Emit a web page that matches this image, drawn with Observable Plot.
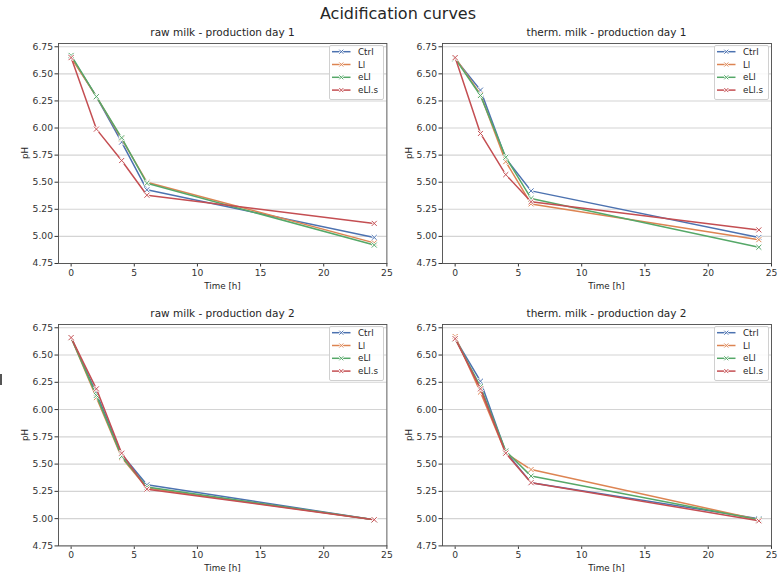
<!DOCTYPE html>
<html><head><meta charset="utf-8">
<script src="https://cdn.jsdelivr.net/npm/d3@7"></script>
<script src="https://cdn.jsdelivr.net/npm/@observablehq/plot@0.6"></script>
<style>
body{margin:0;background:#fff;font-family:"DejaVu Sans",sans-serif;}
#root{position:relative;width:783px;height:575px;overflow:hidden;background:#fff;}
.abs{position:absolute;white-space:nowrap;color:#262626;line-height:1;}
</style></head><body><div id="root"></div>
<script>
const figTitle = "Acidification curves";
const panelTitles = ["raw milk - production day 1", "therm. milk - production day 1", "raw milk - production day 2", "therm. milk - production day 2"];
const xLabel = "Time [h]";
const yLabel = "pH";
const time = [0, 2, 4, 6, 24];
const series = ["Ctrl", "Ll", "eLl", "eLl.s"];
const colors = ["#4c72b0", "#dd8452", "#55a868", "#c44e52"];
const xTicks = [0, 5, 10, 15, 20, 25];
const yTicks = [4.75, 5.00, 5.25, 5.50, 5.75, 6.00, 6.25, 6.50, 6.75];

// pH values per series (Ctrl, Ll, eLl, eLl.s) at each time
const raw1 = [
  [6.66, 6.29, 5.87, 5.43, 4.99],
  [6.65, 6.29, 5.90, 5.50, 4.94],
  [6.67, 6.29, 5.91, 5.49, 4.92],
  [6.65, 5.99, 5.70, 5.38, 5.12]
];
const therm1 = [
  [6.64, 6.35, 5.72, 5.42, 4.99],
  [6.65, 6.31, 5.69, 5.30, 4.97],
  [6.64, 6.30, 5.73, 5.35, 4.90],
  [6.65, 5.95, 5.57, 5.32, 5.06]
];
const raw2 = [
  [6.66, 6.15, 5.59, 5.31, 4.99],
  [6.66, 6.11, 5.56, 5.28, 4.99],
  [6.66, 6.13, 5.57, 5.29, 4.99],
  [6.66, 6.19, 5.60, 5.27, 4.99]
];
const therm2 = [
  [6.65, 6.26, 5.61, 5.33, 5.00],
  [6.67, 6.16, 5.60, 5.45, 4.99],
  [6.65, 6.21, 5.62, 5.39, 4.99],
  [6.65, 6.19, 5.60, 5.33, 4.98]
];
const panelData = [raw1, therm1, raw2, therm2];

// layout (frame boxes in page pixels)
const frames = [
  {x0: 58.3, x1: 386.7, y0: 43, y1: 263},
  {x0: 442, x1: 771, y0: 43, y1: 263},
  {x0: 58.3, x1: 386.7, y0: 324.3, y1: 545.7},
  {x0: 442, x1: 771, y0: 324.3, y1: 545.7}
];

const root = document.getElementById("root");
const ML = 50, MR = 8, MT = 6, MB = 22;

function addText(txt, x, y, size, extra) {
  const d = document.createElement("div");
  d.className = "abs";
  d.textContent = txt;
  d.style.left = x + "px";
  d.style.top = y + "px";
  d.style.fontSize = size + "px";
  d.style.transform = "translate(-50%,-50%)" + (extra || "");
  root.appendChild(d);
  return d;
}

panelData.forEach((vals, p) => {
  const f = frames[p];
  const rows = [];
  series.forEach((s, i) => time.forEach((t, j) => rows.push({s, t, v: vals[i][j]})));
  const marks = [
    Plot.ruleY(yTicks, {stroke: "#d4d4d4", strokeWidth: 1.1})
  ];
  series.forEach((s) => {
    const r = rows.filter(d => d.s === s);
    marks.push(Plot.line(r, {x: "t", y: "v", stroke: "s", strokeWidth: 1.5}));
    marks.push(Plot.dot(r, {x: "t", y: "v", symbol: "times", r: 2.4, stroke: "white", strokeWidth: 2.4}));
    marks.push(Plot.dot(r, {x: "t", y: "v", symbol: "times", r: 2.4, stroke: "s", strokeWidth: 1}));
  });
  marks.push(Plot.frame({stroke: "#4a4a4a", strokeWidth: 0.9}));
  const W = (f.x1 - f.x0) + ML + MR, H = (f.y1 - f.y0) + MT + MB;
  const svg = Plot.plot({
    width: W, height: H,
    marginLeft: ML, marginRight: MR, marginTop: MT, marginBottom: MB,
    style: {fontFamily: "DejaVu Sans", fontSize: "9.2px", color: "#333", background: "transparent", overflow: "visible"},
    x: {domain: [-1, 25], ticks: xTicks, tickSize: 3.5, tickPadding: 2, label: null},
    y: {domain: [4.75, 6.78], ticks: yTicks, tickFormat: d3.format(".2f"), tickSize: 3.5, tickPadding: 2, label: null},
    color: {domain: series, range: colors},
    marks
  });
  svg.style.position = "absolute";
  svg.style.left = (f.x0 - ML) + "px";
  svg.style.top = (f.y0 - MT) + "px";
  svg.style.maxWidth = "none";
  root.appendChild(svg);
});

// texts
addText(figTitle, 398, 13.5, 16);
frames.forEach((f, p) => {
  const cx = (f.x0 + f.x1) / 2;
  addText(panelTitles[p], cx, f.y0 - 11.5, 10.5);
  addText(xLabel, cx, f.y1 + 22.5, 8.75);
  addText(yLabel, f.x0 - 33, (f.y0 + f.y1) / 2, 8.75, " rotate(-90deg)");
  // legend
  const lg = document.createElement("div");
  lg.style.position = "absolute";
  lg.style.left = (f.x1 - 57.5) + "px";
  lg.style.top = (f.y0 + 2) + "px";
  lg.style.width = "53px";
  lg.style.height = "52.5px";
  lg.style.border = "1px solid #d0d0d0";
  lg.style.borderRadius = "2px";
  lg.style.background = "rgba(255,255,255,0.85)";
  root.appendChild(lg);
  const ls = d3.select(lg).append("svg").attr("width", 55).attr("height", 54)
    .style("position", "absolute").style("left", "-1px").style("top", "-1px").style("overflow", "visible");
  series.forEach((s, i) => {
    const y = 6.7 + i * 12.8;
    ls.append("line").attr("x1", 3).attr("x2", 21.5).attr("y1", y).attr("y2", y)
      .attr("stroke", colors[i]).attr("stroke-width", 1.5);
    const m = ls.append("g").attr("transform", `translate(12.3,${y})`);
    m.append("path").attr("d", "M-2,-2L2,2M-2,2L2,-2").attr("stroke", "white").attr("stroke-width", 2.2);
    m.append("path").attr("d", "M-2,-2L2,2M-2,2L2,-2").attr("stroke", colors[i]).attr("stroke-width", 1);
    ls.append("text").attr("x", 29).attr("y", y).attr("dy", "0.35em")
      .attr("font-family", "DejaVu Sans").attr("font-size", 8.75).attr("fill", "#262626").text(s);
  });
});

// small clipped mark at left edge
const bar = document.createElement("div");
bar.style.cssText = "position:absolute;left:0;top:374px;width:2px;height:11px;background:#555;";
root.appendChild(bar);
</script>
</body></html>
